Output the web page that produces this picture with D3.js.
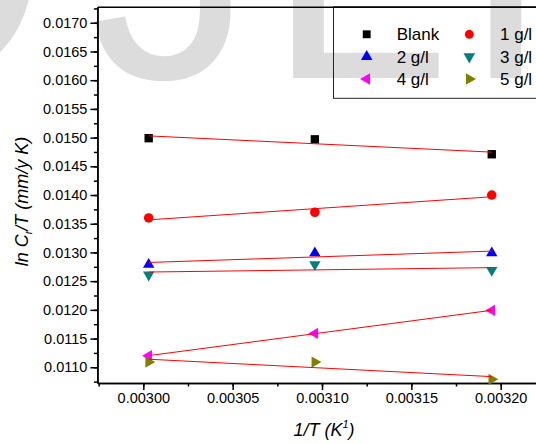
<!DOCTYPE html>
<html>
<head>
<meta charset="utf-8">
<script src="https://cdn.jsdelivr.net/npm/d3@7/dist/d3.min.js"></script>
<style>
  body { margin: 0; background: #fff; }
  svg { display: block; font-family: "Liberation Sans", Arial, sans-serif; }
</style>
</head>
<body>
<script>
// 1/T values (K^-1) for the three temperatures
const invT = [0.003003, 0.003096, 0.003195];

const seriesNames = ['Blank', '1 g/l', '2 g/l', '3 g/l', '4 g/l', '5 g/l'];
const blank = [0.01499, 0.01497, 0.01471];
const g1 = [0.01360, 0.01370, 0.01400];
const g2 = [0.01279, 0.01299, 0.01299];
const g3 = [0.01261, 0.01279, 0.01269];
const g4 = [0.01120, 0.01159, 0.01199];
const g5 = [0.01109, 0.01109, 0.01079];

const xTicks = [0.00300, 0.00305, 0.00310, 0.00315, 0.00320];
const yTicks = [0.0110, 0.0115, 0.0120, 0.0125, 0.0130, 0.0135, 0.0140, 0.0145, 0.0150, 0.0155, 0.0160, 0.0165, 0.0170];

const w = 536, h = 444;

const svg = d3.select('body').append('svg')
  .attr('width', w)
  .attr('height', h);

// watermark letters behind the plot
const wm = svg.append('g').attr('fill', '#dcdcdc')
  .style('font-family', '"Liberation Sans", Arial, sans-serif')
  .style('font-size', '330px');
wm.append('text').attr('x', -208).attr('y', 78).text('O');
wm.append('text').attr('x', 90).attr('y', 78).text('J');
wm.append('text').attr('x', 266).attr('y', 78).text('L');
wm.append('text').attr('x', 460).attr('y', 78).text('I');

const x = d3.scaleLinear().domain([0.0029743, 0.003222]).range([97.4, 540]);
const y = d3.scaleLinear().domain([0.010726, 0.01728]).range([383, 6.7]);

// minor ticks
const xMinor = d3.range(0.002975, 0.00323, 0.000025);
const yMinor = d3.range(0.01075, 0.01728, 0.00025);

svg.append('g').attr('class', 'axis')
  .attr('transform', 'translate(0,' + y.range()[0] + ')')
  .call(d3.axisBottom(x).tickValues(xMinor).tickSize(3.5).tickSizeOuter(0).tickFormat(''));
svg.append('g').attr('class', 'axis')
  .attr('transform', 'translate(0,' + y.range()[0] + ')')
  .call(d3.axisBottom(x).tickValues(xTicks).tickSize(7).tickSizeOuter(0).tickPadding(3).tickFormat(d3.format('.5f')));

svg.append('g').attr('class', 'axis')
  .attr('transform', 'translate(' + x.range()[0] + ',0)')
  .call(d3.axisLeft(y).tickValues(yMinor).tickSize(3.5).tickSizeOuter(0).tickFormat(''));
svg.append('g').attr('class', 'axis')
  .attr('transform', 'translate(' + x.range()[0] + ',0)')
  .call(d3.axisLeft(y).tickValues(yTicks).tickSize(7).tickSizeOuter(0).tickPadding(3).tickFormat(d3.format('.4f')));

// top frame line
svg.append('g').attr('class', 'axis')
  .attr('transform', 'translate(0,' + y.range()[1] + ')')
  .call(d3.axisTop(x).tickValues([]).tickSizeOuter(0));

svg.selectAll('.axis path, .axis line').attr('stroke', '#000').attr('stroke-width', 1.5);
svg.selectAll('.axis text').attr('fill', '#000').style('font-size', '14.5px');

// series
const series = [
  { name: seriesNames[0], vals: blank, color: '#000000', type: d3.symbolSquare, rot: 0, size: 70 },
  { name: seriesNames[1], vals: g1, color: '#ff0000', type: d3.symbolCircle, rot: 0, size: 72 },
  { name: seriesNames[2], vals: g2, color: '#0000ff', type: d3.symbolTriangle, rot: 0, size: 56 },
  { name: seriesNames[3], vals: g3, color: '#008080', type: d3.symbolTriangle, rot: 180, size: 56 },
  { name: seriesNames[4], vals: g4, color: '#ff00ff', type: d3.symbolTriangle, rot: -90, size: 56 },
  { name: seriesNames[5], vals: g5, color: '#808000', type: d3.symbolTriangle, rot: 90, size: 56 }
];

// linear least squares fit
function fit(xs, ys) {
  const mx = d3.mean(xs), my = d3.mean(ys);
  let sxy = 0, sxx = 0;
  xs.forEach((v, i) => { sxy += (v - mx) * (ys[i] - my); sxx += (v - mx) * (v - mx); });
  const b = sxy / sxx;
  return t => my + b * (t - mx);
}

series.forEach(s => {
  const g = svg.append('g');
  g.selectAll('path.pt').data(s.vals).enter().append('path')
    .attr('class', 'pt')
    .attr('d', d3.symbol().type(s.type).size(s.size))
    .attr('fill', s.color)
    .attr('transform', (d, i) => 'translate(' + x(invT[i]) + ',' + y(d) + ') rotate(' + s.rot + ')');
});

series.forEach(s => {
  const f = fit(invT, s.vals);
  const ends = [invT[0], invT[invT.length - 1]];
  svg.append('path')
    .datum(ends)
    .attr('fill', 'none')
    .attr('stroke', '#ff0000')
    .attr('stroke-width', 1)
    .attr('d', d3.line().x(d => x(d)).y(d => y(f(d))));
});

// legend (transparent box, watermark shows through)
const lg = svg.append('g');
lg.append('rect')
  .attr('x', 333.5).attr('y', y.range()[1])
  .attr('width', 240).attr('height', 98.3 - y.range()[1])
  .attr('fill', 'none').attr('stroke', '#222').attr('stroke-width', 1);

const colSym = [366.7, 469.3], colTxt = [396.7, 500], rowY = [34.3, 56.7, 79];
series.forEach((s, i) => {
  const c = i % 2, r = Math.floor(i / 2);
  lg.append('path')
    .attr('d', d3.symbol().type(s.type).size(s.type === d3.symbolTriangle ? 58 : 62))
    .attr('fill', s.color)
    .attr('transform', 'translate(' + colSym[c] + ',' + rowY[r] + ') rotate(' + s.rot + ')');
  lg.append('text')
    .attr('x', colTxt[c]).attr('y', rowY[r]).attr('dy', '0.36em')
    .style('font-size', '17px')
    .text(s.name);
});

// axis titles
const xt = svg.append('text')
  .attr('x', 324).attr('y', 436)
  .attr('text-anchor', 'middle')
  .style('font-size', '18px').style('font-style', 'italic');
xt.append('tspan').text('1/T (K');
xt.append('tspan').attr('dy', -8).style('font-size', '11px').text('1');
xt.append('tspan').attr('dy', 8).text(')');

const yt = svg.append('text')
  .attr('transform', 'translate(28,201.5) rotate(-90)')
  .attr('text-anchor', 'middle')
  .style('font-size', '18px').style('font-style', 'italic');
yt.append('tspan').text('ln C');
yt.append('tspan').attr('dy', 4).style('font-size', '11px').text('r');
yt.append('tspan').attr('dy', -4).text('/T (mm/y K)');
</script>
</body>
</html>
